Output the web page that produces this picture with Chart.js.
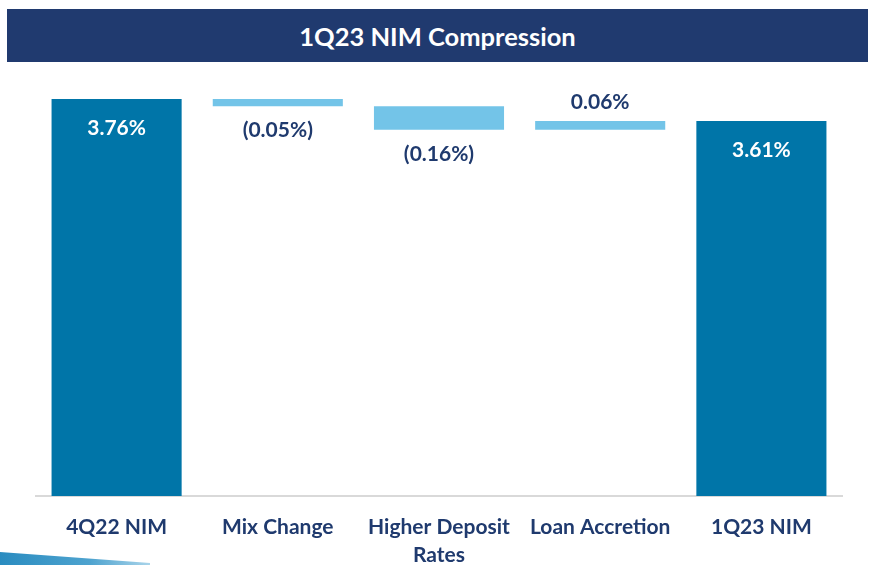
<!DOCTYPE html>
<html lang="en">
<head>
<meta charset="UTF-8">
<title>1Q23 NIM Compression</title>
<script src="https://cdn.jsdelivr.net/npm/chart.js"></script>
<style>
  html, body { margin: 0; padding: 0; background: #fff; }
  body { width: 870px; height: 565px; position: relative; overflow: hidden; font-family: Lato, "Open Sans", sans-serif; }
  #banner {
    position: absolute; left: 7px; top: 9px; width: 861px; height: 53px;
    background: #203a6f; color: #fff; font: bold 25.5px Lato, sans-serif;
    text-align: center; line-height: 55px;
  }
  #swoosh {
    position: absolute; left: 0; top: 540px; width: 150px; height: 25px;
    background: linear-gradient(90deg, #2a8cc0 0%, #4ea3cf 60%, #a9d4ea 100%);
    clip-path: polygon(0 48%, 100% 92%, 100% 100%, 0 100%);
  }
  #wrap { position: absolute; left: 0; top: 0; width: 870px; height: 565px; }
</style>
</head>
<body>
<div id="wrap"><canvas id="nimChart" width="870" height="565"></canvas></div>
<div id="banner">1Q23 NIM Compression</div>
<div id="swoosh"></div>

<script>
// data
const categories = ['4Q22 NIM', 'Mix Change', ['Higher Deposit', 'Rates'], 'Loan Accretion', '1Q23 NIM'];
const changes = [3.76, -0.05, -0.16, 0.06, 3.61];
const isTotal = [true, false, false, false, true];
const valueLabels = ['3.76%', '(0.05%)', '(0.16%)', '0.06%', '3.61%'];

const navy = '#1f3a6e';
const darkBlue = '#0075a8';
const lightBlue = '#73c4e8';

// waterfall: totals start from the axis floor, steps float on the running total
const yMin = 1.05;
let running = 0;
const ranges = changes.map((v, i) => {
    if (isTotal[i]) {
        running = v;
        return [yMin, v];
    }
    const start = running;
    running = running + v;
    return [start, running];
});

const barLabels = {
    id: 'barLabels',
    afterDatasetsDraw(chart) {
        const ctx = chart.ctx;
        const meta = chart.getDatasetMeta(0);
        ctx.save();
        ctx.font = 'bold 21px Lato, sans-serif';
        ctx.textAlign = 'center';
        ctx.textBaseline = 'middle';
        meta.data.forEach((bar, i) => {
            const top = Math.min(bar.y, bar.base);
            const bottom = Math.max(bar.y, bar.base);
            let y;
            if (isTotal[i]) {
                ctx.fillStyle = '#ffffff';
                y = top + 29;
            } else if (changes[i] < 0) {
                ctx.fillStyle = navy;
                y = bottom + 24;
            } else {
                ctx.fillStyle = navy;
                y = top - 19;
            }
            ctx.fillText(valueLabels[i], bar.x, y);
        });
        ctx.restore();
    }
};

const ctx = document.getElementById('nimChart').getContext('2d');
new Chart(ctx, {
    type: 'bar',
    data: {
        labels: categories,
        datasets: [{
            data: ranges,
            backgroundColor: isTotal.map(t => t ? darkBlue : lightBlue),
            borderSkipped: false,
            barPercentage: 0.807,
            categoryPercentage: 1.0
        }]
    },
    options: {
        responsive: false,
        animation: false,
        layout: { padding: { top: 70, left: 36, right: 28, bottom: 0 } },
        plugins: {
            legend: { display: false },
            tooltip: { enabled: false }
        },
        scales: {
            x: {
                grid: { display: false, drawTicks: false },
                border: { display: true, color: '#d9d9d9', width: 2 },
                ticks: {
                    color: navy,
                    font: { family: 'Lato', size: 21, weight: 'bold', lineHeight: 1.35 },
                    padding: 17,
                    maxRotation: 0,
                    autoSkip: false
                },
                afterFit(scale) { scale.height = 69; }
            },
            y: {
                display: false,
                min: yMin,
                max: 3.958
            }
        }
    },
    plugins: [barLabels]
});
</script>
</body>
</html>
